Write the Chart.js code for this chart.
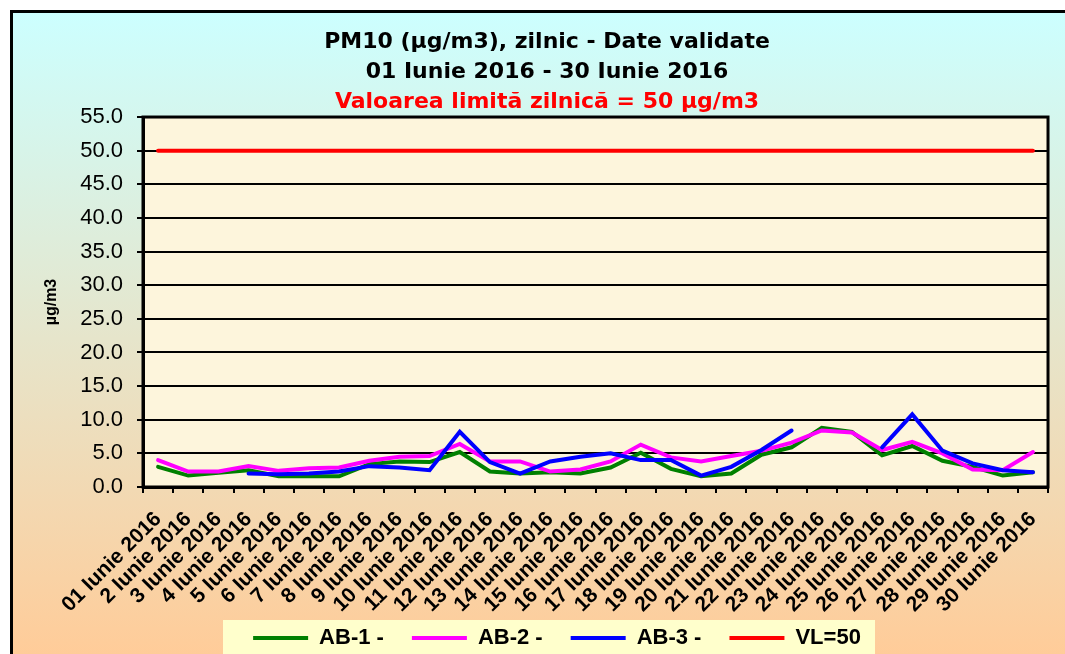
<!DOCTYPE html>
<html><head><meta charset="utf-8">
<script src="https://cdn.jsdelivr.net/npm/chart.js@4/dist/chart.umd.min.js"></script>
<style>html,body{margin:0;padding:0;background:#fff}canvas{display:block}</style>
</head><body>
<canvas id="c" width="1065" height="654"></canvas>
<script>
const days = ["01 Iunie 2016","2 Iunie 2016","3 Iunie 2016","4 Iunie 2016","5 Iunie 2016","6 Iunie 2016","7 Iunie 2016","8 Iunie 2016","9 Iunie 2016","10 Iunie 2016","11 Iunie 2016","12 Iunie 2016","13 Iunie 2016","14 Iunie 2016","15 Iunie 2016","16 Iunie 2016","17 Iunie 2016","18 Iunie 2016","19 Iunie 2016","20 Iunie 2016","21 Iunie 2016","22 Iunie 2016","23 Iunie 2016","24 Iunie 2016","25 Iunie 2016","26 Iunie 2016","27 Iunie 2016","28 Iunie 2016","29 Iunie 2016","30 Iunie 2016"];
const ab1 = [3.0,1.7,2.1,2.5,1.6,1.6,1.6,3.4,3.8,3.7,5.2,2.3,2.0,2.2,2.0,2.9,5.1,2.7,1.6,2.0,4.8,5.9,8.8,8.2,4.7,6.1,3.9,3.0,1.7,2.2];
const ab2 = [4.0,2.3,2.3,3.1,2.4,2.8,2.9,3.9,4.5,4.6,6.4,3.8,3.8,2.3,2.6,3.8,6.3,4.4,3.8,4.6,5.4,6.6,8.4,8.1,5.5,6.7,5.0,2.6,2.5,5.2];
const ab3 = [null,null,null,2.0,1.9,2.0,2.3,3.1,2.9,2.5,8.2,3.7,2.0,3.8,4.5,5.0,4.0,4.0,1.7,3.0,5.5,8.4,null,null,5.9,10.8,5.4,3.5,2.5,2.2];
const vl50 = [50,50,50,50,50,50,50,50,50,50,50,50,50,50,50,50,50,50,50,50,50,50,50,50,50,50,50,50,50,50];
const yTickValues = [0,5,10,15,20,25,30,35,40,45,50,55];
const seriesNames = ["AB-1 -","AB-2 -","AB-3 -","VL=50"];
const titleLines = ["PM10 (µg/m3), zilnic - Date validate","01 Iunie 2016 - 30 Iunie 2016"];
const subtitleText = "Valoarea limită zilnică = 50 µg/m3";
const yAxisTitle = "µg/m3";

const LEGEND_SHIFT_X = 10;
const LEGEND_SHIFT_Y = -13;
const decor = {
  id: 'decor',
  afterUpdate(chart) {
    const lg = chart.legend;
    if (lg) {
      lg.left += LEGEND_SHIFT_X; lg.right += LEGEND_SHIFT_X;
      lg.top += LEGEND_SHIFT_Y; lg.bottom += LEGEND_SHIFT_Y;
      if (lg.adjustHitBoxes) lg.adjustHitBoxes();
    }
  },
  beforeDraw(chart) {
    const ctx = chart.ctx, W = chart.width, H = chart.height;
    ctx.save();
    ctx.fillStyle = '#ffffff';
    ctx.fillRect(0, 0, W, H);
    const g = ctx.createLinearGradient(0, 11, 0, H);
    g.addColorStop(0, '#ccffff');
    g.addColorStop(1, '#ffcc99');
    ctx.fillStyle = g;
    ctx.fillRect(11, 11, W, H);
    ctx.strokeStyle = '#000';
    ctx.lineWidth = 3;
    ctx.strokeRect(11.5, 11.5, W + 20, H + 20);
    const a = chart.chartArea;
    ctx.fillStyle = '#fdf5dc';
    ctx.fillRect(a.left, a.top, a.right - a.left, a.bottom - a.top);
    const lg = chart.legend;
    if (lg) {
      const cx = (lg.left + lg.right) / 2;
      const pad = lg.options.labels.padding;
      const t = lg.top + pad + 11 - 18;
      ctx.fillStyle = '#ffffcc';
      ctx.fillRect(cx - 334, t, 652, H - t + 5);
    }
    ctx.restore();
  },
  beforeDatasetsDraw(chart) {
    const ctx = chart.ctx, a = chart.chartArea;
    ctx.save();
    ctx.strokeStyle = '#000';
    ctx.lineWidth = 3;
    ctx.strokeRect(a.left, a.top, a.right - a.left, a.bottom - a.top);
    ctx.restore();
  }
};

const mk = (label, data, color, order) => ({
  label, data, borderColor: color, backgroundColor: color,
  borderWidth: 4, pointRadius: 0, pointHoverRadius: 0, tension: 0,
  fill: false, spanGaps: false, borderCapStyle: 'round', order
});

new Chart(document.getElementById('c'), {
  type: 'line',
  data: {
    labels: days,
    datasets: [
      mk(seriesNames[0], ab1, '#008000', 3),
      mk(seriesNames[1], ab2, '#ff00ff', 2),
      mk(seriesNames[2], ab3, '#0000ff', 1),
      mk(seriesNames[3], vl50, '#ff0000', 0)
    ]
  },
  options: {
    responsive: false,
    devicePixelRatio: 1,
    animation: false,
    events: [],
    layout: { padding: { left: 44, right: 15, top: 0, bottom: -18 } },
    plugins: {
      title: {
        display: true, text: titleLines, color: '#000',
        font: { family: 'DejaVu Sans', size: 22, weight: 'bold', lineHeight: 1.364 },
        padding: { top: 27, bottom: 0 }
      },
      subtitle: {
        display: true, text: subtitleText, color: '#ff0000',
        font: { family: 'DejaVu Sans', size: 22, weight: 'bold', lineHeight: 1.364 },
        padding: { top: 0, bottom: 0 }
      },
      legend: {
        position: 'bottom',
        labels: {
          usePointStyle: true, pointStyle: 'line', pointStyleWidth: 55,
          color: '#000', padding: 28,
          font: { family: 'Liberation Sans', size: 22, weight: 'bold' },
          sort: (a, b) => a.datasetIndex - b.datasetIndex
        }
      },
      tooltip: { enabled: false }
    },
    scales: {
      x: {
        type: 'category', offset: true,
        afterFit: s => { s.height = 125; },
        grid: { display: true, drawOnChartArea: false, drawTicks: true, tickLength: 6, offset: true, color: '#000', lineWidth: 2 },
        border: { display: true, color: '#000', width: 3 },
        ticks: {
          autoSkip: false, maxRotation: 45, minRotation: 45, padding: 14, color: '#000',
          font: { family: 'Liberation Sans', size: 21, weight: 'bold' }
        }
      },
      y: {
        min: 0, max: 55,
        afterFit: s => { s.width = 99; },
        afterBuildTicks: s => { s.ticks = yTickValues.map(v => ({ value: v })); },
        grid: { color: '#000', lineWidth: 2, drawTicks: true, tickLength: 6, tickColor: '#000', tickWidth: 2 },
        border: { display: true, color: '#000', width: 3 },
        ticks: {
          padding: 14, color: '#000',
          font: { family: 'Liberation Sans', size: 22 },
          callback: v => Number(v).toFixed(1)
        },
        title: {
          display: true, text: yAxisTitle, color: '#000',
          font: { family: 'Liberation Sans', size: 16, weight: 'bold', lineHeight: 1 },
          padding: { top: 0, bottom: 0 }
        }
      }
    }
  },
  plugins: [decor]
});
</script>
</body></html>
